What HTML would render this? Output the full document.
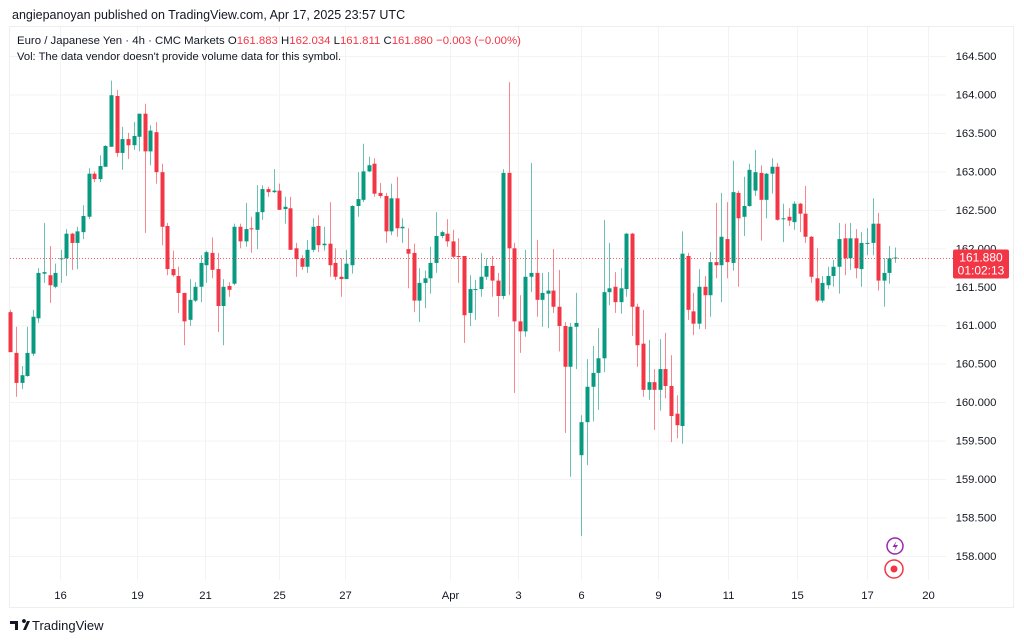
<!DOCTYPE html>
<html><head><meta charset="utf-8">
<style>
body{margin:0;background:#fff;width:1024px;height:641px;overflow:hidden;font-family:"Liberation Sans",sans-serif}
svg{position:absolute;left:0;top:0}
text{font-family:"Liberation Sans",sans-serif}
</style></head><body>
<svg id="chart" width="1024" height="641" viewBox="0 0 1024 641">
<rect x="9.5" y="26.5" width="1004" height="581" fill="#fff" stroke="#eeeeee"/>
<g id="grid"></g>
<g id="candles"></g>
<line id="pline" stroke="#f23645" stroke-width="1" stroke-dasharray="1,2" opacity="0.8"/>
<g id="yaxis"></g>
<g id="xaxis"></g>
<text x="12" y="19" font-size="12.5" fill="#131722">angiepanoyan published on TradingView.com, Apr 17, 2025 23:57 UTC</text>
<text x="17" y="44" font-size="11.4" fill="#131722">Euro / Japanese Yen · 4h · CMC Markets  O<tspan fill="#f23645">161.883</tspan>  H<tspan fill="#f23645">162.034</tspan>  L<tspan fill="#f23645">161.811</tspan>  C<tspan fill="#f23645">161.880 −0.003 (−0.00%)</tspan></text>
<text x="17" y="60" font-size="11.2" fill="#131722">Vol: The data vendor doesn't provide volume data for this symbol.</text>
<g>
<rect id="plbox" x="953" width="56" height="29" rx="2" fill="#f23645"/>
<text id="plt1" x="981" font-size="12" fill="#fff" text-anchor="middle">161.880</text>
<text id="plt2" x="981" font-size="12" fill="#fff" text-anchor="middle">01:02:13</text>
</g>
<g><circle cx="895" cy="546" r="8" fill="#fff" stroke="#9c27b0" stroke-width="1.5"/><path d="M896.5 541 L892.5 547 L895.5 547 L894 551 L898 545 L895 545 Z" fill="#9c27b0"/></g>
<g><circle cx="894" cy="569" r="9" fill="#fff" stroke="#f23645" stroke-width="1.5"/><circle cx="894" cy="569" r="3.5" fill="#f23645"/></g>
<g><path d="M10 621 h8 v9 h-3 v-6 h-5z M19 621 h3 a2 2 0 1 1 0 .1z M23 630 l4 -9 h3 l-4 9z" fill="#131722"/><text x="32" y="630" font-size="13" fill="#131722">TradingView</text></g>
</svg>
<script>
const opens=[161.17,160.64,160.25,160.34,160.63,161.09,161.67,161.65,161.50,161.86,161.87,162.19,162.07,162.21,162.41,162.97,162.90,163.06,163.32,163.98,163.24,163.42,163.34,163.45,163.75,163.26,163.51,162.99,162.29,161.73,161.64,161.42,161.07,161.32,161.50,161.78,161.94,161.73,161.25,161.51,161.54,162.28,162.09,162.26,162.24,162.47,162.77,162.73,162.75,162.51,162.52,162.00,161.87,161.76,161.98,162.29,162.04,162.06,161.81,161.63,161.60,161.78,162.55,162.63,163.00,163.10,162.72,162.68,162.22,162.65,162.26,161.99,161.94,161.32,161.55,161.61,161.81,162.16,162.19,162.09,161.90,161.90,161.16,161.46,161.47,161.63,161.77,161.58,161.38,162.98,162.00,161.05,160.92,161.63,161.68,161.33,161.41,161.45,161.24,160.99,160.46,160.98,159.31,159.74,160.20,160.38,160.57,161.43,161.50,161.30,161.47,162.19,161.24,160.76,160.16,160.26,160.16,160.43,160.21,159.85,159.69,161.90,161.18,161.02,161.50,161.39,161.82,161.78,162.12,161.81,162.72,162.41,162.55,162.75,162.98,162.63,162.97,163.06,162.38,162.41,162.34,162.58,162.45,162.15,161.61,161.32,161.52,161.64,161.76,162.13,161.87,162.13,161.73,162.06,162.07,162.32,161.58,161.68,161.88];
const highs=[161.20,160.98,160.47,160.98,161.20,161.74,162.33,162.03,161.80,161.98,162.25,162.20,162.28,162.56,163.04,163.00,163.21,163.34,164.18,164.06,163.58,163.50,163.64,163.75,163.88,163.60,163.64,163.10,162.33,161.97,161.76,161.42,161.60,161.56,161.91,161.97,162.14,161.94,161.60,161.56,162.32,162.32,162.59,162.41,162.82,162.82,162.80,163.03,162.84,162.67,162.67,162.07,161.91,162.11,162.39,162.43,162.28,162.60,162.00,161.87,161.98,162.56,162.99,163.36,163.19,163.17,162.85,162.72,162.84,162.93,162.39,162.26,162.06,161.74,161.71,162.02,162.47,162.23,162.38,162.24,162.13,161.90,161.65,161.59,161.94,161.87,161.90,161.68,163.03,164.16,162.07,161.39,161.98,163.11,162.11,161.68,161.69,161.99,161.72,161.04,161.03,161.42,159.83,160.56,160.73,160.96,162.37,162.07,161.69,161.74,162.20,162.20,161.28,161.20,160.81,160.43,160.82,160.90,160.61,160.09,162.22,161.94,161.42,161.73,161.64,161.95,162.59,162.72,162.60,163.14,162.75,162.93,163.10,163.28,163.08,162.98,163.17,163.11,162.58,162.52,162.61,162.59,162.81,162.16,162.00,161.64,161.76,161.85,162.33,162.32,162.33,162.25,162.21,162.26,162.65,162.46,161.87,162.03,162.01];
const lows=[160.65,160.07,160.17,160.33,160.60,161.03,161.55,161.29,161.48,161.55,161.64,161.72,161.73,162.12,162.38,162.86,162.86,163.06,163.32,163.19,163.02,163.16,163.28,163.26,162.20,163.08,162.84,162.04,161.65,161.63,161.16,160.74,160.99,161.30,161.30,161.55,161.61,160.91,160.74,161.37,161.52,162.00,162.02,161.94,161.99,162.37,162.67,162.72,162.50,162.32,161.98,161.63,161.72,161.68,161.95,161.95,161.97,161.63,161.59,161.37,161.60,161.67,162.41,162.60,162.99,162.67,162.65,162.07,162.17,162.15,162.07,161.48,161.17,161.04,161.22,161.41,161.68,162.13,162.02,161.87,161.55,160.77,160.99,161.07,161.37,161.59,161.37,161.11,161.34,161.39,160.12,160.64,160.85,161.43,161.11,160.98,160.96,161.16,160.66,159.60,159.03,160.43,158.26,159.18,159.75,159.90,160.39,161.26,161.16,161.15,161.37,160.86,160.46,160.07,160.03,159.64,159.89,160.05,159.48,159.53,159.46,161.07,160.87,160.95,160.95,161.11,161.61,161.30,161.61,161.71,161.50,162.16,162.54,162.68,162.10,162.39,162.71,162.36,162.08,162.29,162.24,162.21,162.07,161.55,161.30,161.29,161.47,161.50,161.41,161.65,161.72,161.61,161.50,161.91,161.91,161.45,161.24,161.54,161.81];
const closes=[160.65,160.25,160.35,160.64,161.11,161.68,161.69,161.52,161.68,161.87,162.19,162.07,162.22,162.42,162.97,162.90,163.07,163.33,163.99,163.24,163.42,163.34,163.46,163.75,163.26,163.53,162.99,162.28,161.73,161.65,161.42,161.05,161.33,161.50,161.81,161.95,161.72,161.25,161.50,161.46,162.28,162.09,162.25,162.25,162.47,162.77,162.73,162.75,162.50,162.54,161.98,161.86,161.76,161.98,162.28,162.04,162.06,161.78,161.63,161.60,161.80,162.55,162.64,163.00,163.08,162.71,162.68,162.22,162.65,162.26,162.28,161.93,161.32,161.55,161.61,161.81,162.16,162.21,162.09,161.89,161.89,161.13,161.47,161.47,161.63,161.77,161.58,161.38,162.98,162.00,161.05,160.92,161.63,161.68,161.33,161.42,161.45,161.24,160.99,160.46,160.98,161.03,159.74,160.20,160.38,160.57,161.43,161.48,161.30,161.48,162.19,161.24,160.74,160.16,160.26,160.16,160.43,160.21,159.82,159.70,161.93,161.20,161.02,161.50,161.39,161.82,161.78,162.15,161.82,162.73,162.39,162.55,163.02,162.99,162.63,162.97,163.06,162.37,162.39,162.36,162.58,162.45,162.15,161.63,161.32,161.55,161.64,161.76,162.12,161.87,162.13,161.74,162.07,162.07,162.32,161.58,161.68,161.87,161.88];
const priceTicks=[164.5,164.0,163.5,163.0,162.5,162.0,161.5,161.0,160.5,160.0,159.5,159.0,158.5,158.0];
const dateLabels=["16","19","21","25","27","Apr","3","6","9","11","15","17","20"];
const dateIndex=[8.9,22.7,34.8,48,59.8,78.5,90.6,101.9,115.6,128.1,140.4,152.9,163.8];
const lastPrice=161.880;

const NS="http://www.w3.org/2000/svg";
const P0=164.5,Y0=56,PX=76.92;
function y(p){return Y0+(P0-p)*PX;}
function x(i){return 10.3+i*5.6;}
function mk(tag,attrs,parent){const e=document.createElementNS(NS,tag);for(const k in attrs)e.setAttribute(k,attrs[k]);parent.appendChild(e);return e;}
const grid=document.getElementById('grid'),ya=document.getElementById('yaxis'),xa=document.getElementById('xaxis'),cg=document.getElementById('candles');
priceTicks.forEach(p=>{
  const l=mk('line',{x1:10,x2:946,y1:y(p)+0.5,y2:y(p)+0.5,stroke:'#f3f3f3'},grid);
  
  
  const t=mk('text',{x:976,y:y(p)+4,'font-size':11.3,fill:'#131722','text-anchor':'middle'},ya);
  t.textContent=p.toFixed(3);
  
  
});
dateLabels.forEach((d,k)=>{
  const xx=Math.round(x(dateIndex[k]))+0.5;
  const l=mk('line',{x1:xx,x2:xx,y1:27,y2:580,stroke:'#f3f3f3'},grid);
  
  
  const t=mk('text',{x:xx,y:599,'font-size':11.3,fill:'#131722','text-anchor':'middle'},xa);
  t.textContent=d;
  
  
});
for(let i=0;i<opens.length;i++){
  const up=closes[i]>=opens[i],c=up?'#089981':'#f23645';
  const cx=Math.round(x(i))+0.5;
  const w=mk('line',{x1:cx,x2:cx,y1:y(highs[i]),y2:y(lows[i]),stroke:c,'stroke-opacity':0.6,'stroke-width':1},cg);
  
  
  const top=y(Math.max(opens[i],closes[i])),bot=y(Math.min(opens[i],closes[i]));
  const b=mk('rect',{x:cx-2,y:top,width:4,height:Math.max(1,bot-top),fill:c},cg);
  
  
}
const ly=Math.round(y(lastPrice))+0.5;
const pl=document.getElementById('pline');
pl.setAttribute('x1',10);pl.setAttribute('x2',953);pl.setAttribute('y1',ly);pl.setAttribute('y2',ly);
document.getElementById('plbox').setAttribute('y',ly-9);
document.getElementById('plt1').setAttribute('y',ly+3);
document.getElementById('plt2').setAttribute('y',ly+16);
</script>
</body></html>
